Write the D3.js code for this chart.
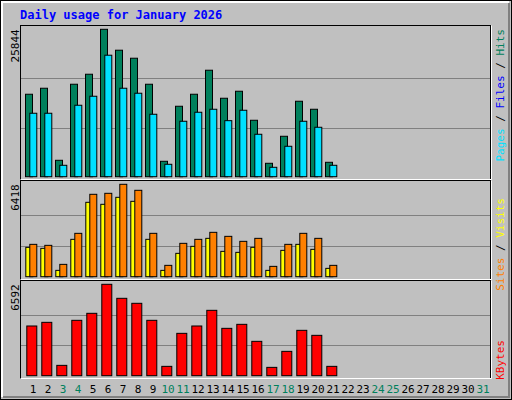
<!DOCTYPE html>
<html><head><meta charset="utf-8">
<script src="https://cdn.jsdelivr.net/npm/d3@7"></script>
<style>body{margin:0;background:#fff}</style>
</head><body>
<script>
// values (days 1..21, rest of month empty)
let days = d3.range(1, 32);
let weekend = [3, 4, 10, 11, 17, 18, 24, 25, 31];
let hits = [14457,15510,2877,16212,17966,25844,22177,20773,16212,2702,12352,14457,18668,13755,14983,9895,2351,7088,13229,11825,2526];
let pages = [11124,11124,2000,12527,14106,21300,15510,14633,10948,2176,9720,11299,11825,9825,11650,7439,1649,5334,9720,8667,2000];
let sites = [2247,2178,857,3012,5723,5792,6418,6001,3012,788,2317,2595,3082,2803,2456,2664,718,2247,3012,2664,788];
let visits = [2039,1969,440,2595,5167,5028,5514,5236,2595,440,1622,2108,2664,1761,1691,2039,440,1830,2247,1900,579];
let kbytes = [3585,3849,746,3994,4499,6592,5581,5221,3994,674,3055,3585,4715,3416,3705,2478,601,1756,3272,2911,674];

let mono = "DejaVu Sans Mono";
let svg = d3.select("body").append("svg").attr("width", 512).attr("height", 400);

// background + bevels
svg.append("rect").attr("width", 512).attr("height", 400).attr("fill", "#000");
svg.append("rect").attr("x", 1).attr("y", 1).attr("width", 510).attr("height", 398).attr("fill", "#c0c0c0");
svg.append("path").attr("d", "M2,397V2H509").attr("stroke", "#fff").attr("stroke-width", 2).attr("fill", "none");
svg.append("path").attr("d", "M3,397H509V3").attr("stroke", "#808080").attr("stroke-width", 2).attr("fill", "none");

svg.append("text").attr("x", 20).attr("y", 19).attr("fill", "#0000ff")
    .attr("font-family", mono).attr("font-weight", "bold").attr("font-size", 12)
    .text("Daily usage for January 2026");

let x = d3.scaleLinear().domain([1, 31]).range([25, 475]);

// panel frames
let panels = [
    {top: 25, bottom: 179, base: 176.7, max: 25844, peak: 29.3},
    {top: 180, bottom: 279, base: 276.7, max: 6418, peak: 184.3},
    {top: 280, bottom: 378, base: 375.7, max: 6592, peak: 284.3}
];
panels.forEach(p => {
    p.y = d3.scaleLinear().domain([0, p.max]).range([p.base, p.peak]);
    svg.append("rect").attr("x", 20.5).attr("y", p.top + 0.5).attr("width", 470).attr("height", p.bottom - p.top)
        .attr("fill", "none").attr("stroke", "#000");
    svg.append("path").attr("d", `M20.5,${p.bottom + 0.5}H491.5V${p.top + 0.5}`)
        .attr("stroke", "#fff").attr("fill", "none");
    [1 / 3, 2 / 3].forEach(f => {
        svg.append("line").attr("x1", 21).attr("x2", 490)
            .attr("y1", Math.round(p.y(p.max * f)) + 0.5).attr("y2", Math.round(p.y(p.max * f)) + 0.5)
            .attr("stroke", "#808080");
    });
    let ly = p.peak;
    svg.append("text").attr("transform", `translate(19,${ly}) rotate(-90)`)
        .attr("text-anchor", "end").attr("font-family", mono).attr("font-size", 11)
        .text(p.max);
});

function bars(data, p, dx, w, color) {
    svg.append("g").selectAll("rect").data(data).join("rect")
        .attr("x", (d, i) => x(i + 1) + dx + 0.5)
        .attr("y", d => p.y(d))
        .attr("width", w)
        .attr("height", d => p.base - p.y(d))
        .attr("fill", color).attr("stroke", "#000");
}
bars(hits, panels[0], 0, 7, "#00805c");
bars(pages, panels[0], 4.3, 7, "#00e0ff");
bars(visits, panels[1], 0.3, 7, "#ffff00");
bars(sites, panels[1], 4.3, 7, "#ff8000");
bars(kbytes, panels[2], 1.3, 10, "#ff0000");

// day labels
svg.append("g").selectAll("text").data(days).join("text")
    .attr("x", d => x(d) + 8).attr("y", 393)
    .attr("text-anchor", "middle").attr("font-family", mono).attr("font-size", 11)
    .attr("fill", d => weekend.includes(d) ? "#00805c" : "#000")
    .text(d => d);

// right legends
function legend(parts, y0) {
    let t = svg.append("text").attr("transform", `translate(504,${y0}) rotate(-90)`)
        .attr("text-anchor", "end").attr("font-family", mono).attr("font-size", 11);
    parts.forEach(pp => t.append("tspan").attr("fill", pp[1]).text(pp[0]));
}
legend([["Pages", "#00e0ff"], [" / ", "#000"], ["Files", "#0000ff"], [" / ", "#000"], ["Hits", "#00805c"]], 29);
legend([["Sites", "#ff8000"], [" / ", "#000"], ["Visits", "#ffff00"]], 198);
legend([["KBytes", "#ff0000"]], 340);
</script>
</body></html>
